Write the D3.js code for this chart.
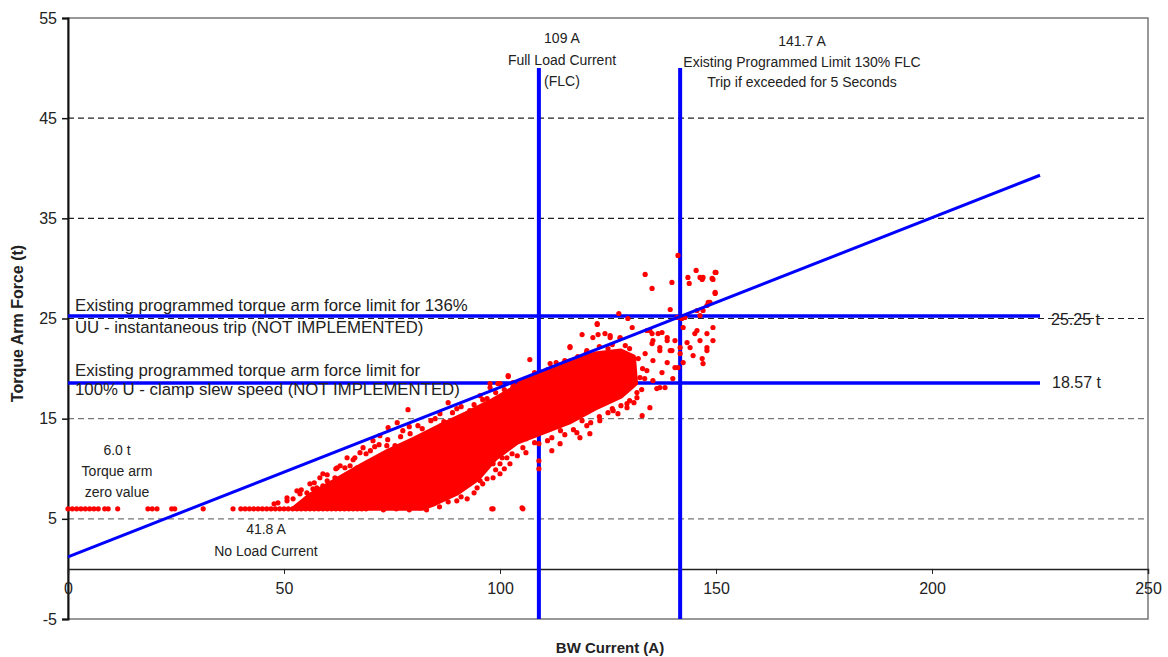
<!DOCTYPE html>
<html>
<head>
<meta charset="utf-8">
<script src="https://cdn.jsdelivr.net/npm/d3@7"></script>
<style>
  body { margin: 0; background: #fff; }
  text { font-family: "Liberation Sans", Arial, sans-serif; fill: #222; }
</style>
</head>
<body>
<svg id="canvas" width="1168" height="657"></svg>
<script>
// axis ticks
let xTicks = [0, 50, 100, 150, 200, 250]
let yTicks = [-5, 5, 15, 25, 35, 45, 55]
let gridValues = [5, 15, 25, 35, 45]

// limits (A and t)
let currentLimits = [109, 141.7]
let forceLimits = [25.25, 18.57]
let limitLineEnd = 225

// upper force limit line
let trendLine = [[0, 1.2], [225, 39.3]]

// torque arm zero value readings (6.0 t)
let zeroForce = 6.0
let zeroReadings = [0, 1, 2, 3, 4, 5, 6, 7, 8.5, 9.3, 11.5, 18.5, 19.5, 20.6, 24, 24.7, 31.3, 38.2,
  40, 41, 42, 43, 44, 45, 46, 47, 48, 49, 50, 51, 52, 53, 54, 55, 56, 57, 58, 59,
  60, 61, 62, 63, 64, 65, 66, 67, 68, 69]

// outline of the densest part of the cloud
let denseCloud = [
  [52, 6.0], [56, 7.4], [62, 8.9], [68, 10.4], [74, 11.8], [80, 13.0], [86, 14.3], [92, 15.5],
  [98, 16.8], [104, 18.3], [110, 19.7], [116, 20.8], [122, 21.5], [128, 21.8], [131, 21.2],
  [131.5, 18.5], [128, 17.2], [122, 16.0], [116, 14.6], [110, 13.6], [104, 12.6], [99, 11.0],
  [95, 9.0], [90, 7.5], [85, 6.5], [82, 6.0]
]

// individual readings outside the dense part
let readings = [
  [141.2, 31.3], [133.6, 29.4], [135.2, 28.0], [139.8, 28.6], [145.4, 29.8], [143.5, 29.1], [143.8, 28.5],
  [146.3, 29.1], [146.8, 28.9], [147.0, 29.1], [149.1, 29.0], [150.0, 29.6], [149.8, 27.5], [148.6, 26.6],
  [147.9, 26.3], [147.0, 25.8], [145.6, 25.8], [146.3, 25.3], [139.4, 25.9], [127.5, 25.5], [129.6, 25.0],
  [130.6, 24.1], [141.0, 25.1], [142.1, 25.0], [142.8, 25.1], [127.8, 23.1], [125.5, 23.3], [134.7, 23.8],
  [136.6, 23.5], [138.7, 23.1], [140.5, 22.8], [141.7, 22.1], [145.6, 23.8], [147.9, 23.5], [149.3, 24.1],
  [146.3, 22.8], [144.0, 22.1], [147.9, 21.8], [137.0, 22.1], [135.4, 22.8], [139.4, 21.8],
  [122.5, 24.4], [119.0, 23.4], [122.7, 23.4], [124.3, 23.5], [127.8, 23.0], [116.2, 22.2], [120.1, 21.8],
  [106.9, 20.9], [111.6, 20.5], [112.0, 20.1], [105.3, 18.8], [104.6, 18.6], [101.9, 19.2], [100.0, 18.5],
  [97.7, 18.1], [134.0, 23.8], [135.2, 23.5], [137.5, 23.6], [138.7, 22.8], [135.2, 22.5], [137.0, 21.8],
  [139.8, 21.8], [133.6, 21.5], [135.4, 20.8], [138.7, 20.6], [140.5, 20.1], [134.0, 19.8], [137.5, 19.6],
  [132.4, 19.1], [135.4, 18.8], [140.0, 19.0], [138.2, 18.1], [131.7, 17.6], [136.3, 18.0],
  [134.7, 16.1], [129.4, 16.1], [132.9, 15.3], [126.2, 15.8], [123.1, 14.8], [120.1, 14.3], [118.5, 13.1],
  [120.8, 13.5], [117.8, 13.6], [112.0, 13.1], [113.9, 12.5], [109.0, 12.5], [109.0, 10.8], [109.0, 10.0],
  [112.0, 11.8], [105.3, 12.1], [102.8, 11.5], [100.5, 11.1], [102.3, 10.5], [98.4, 10.5], [97.2, 10.8],
  [96.0, 10.1], [78.7, 15.9], [88.0, 16.6], [86.1, 15.5], [95.4, 17.3], [97.0, 17.0], [99.5, 18.5],
  [97.7, 18.5], [101.9, 19.3], [76.2, 14.6], [74.1, 14.1], [70.6, 12.8], [77.5, 13.8], [79.2, 13.5],
  [73.8, 12.3], [75.7, 12.3], [67.6, 11.6], [66.4, 11.1], [65.3, 10.3], [64.1, 10.1], [66.9, 10.1],
  [61.8, 9.1], [63.0, 9.0], [60.0, 8.8], [57.6, 8.1], [56.7, 8.0], [59.0, 8.3], [53.7, 7.5], [55.3, 7.6],
  [52.1, 7.0], [50.7, 6.8], [90.0, 6.8], [92.4, 7.0], [85.4, 6.8], [98.1, 6.0], [83.1, 6.3], [81.5, 6.1],
  [87.7, 7.5], [88.4, 8.1], [95.4, 8.8], [94.7, 8.1], [98.4, 9.1], [101.6, 11.1], [100.0, 10.5],
  [105.3, 6.0], [98.4, 6.0], [105.1, 6.1], [47.7, 6.5], [48.6, 6.6],
  [147.0, 20.5], [147.9, 22.1], [149.3, 22.8], [145.1, 23.5], [142.4, 24.1], [143.3, 22.6], [141.7, 21.5],
  [142.4, 20.6], [141.2, 20.1], [144.7, 21.3], [146.8, 21.0], [149.8, 29.6], [149.3, 28.9], [149.8, 27.6],
  [148.2, 26.6], [122.5, 24.5], [121.5, 23.1], [125.5, 23.1], [116.2, 22.1], [119.2, 21.1],
  [127.3, 15.5], [129.4, 16.5], [131.7, 17.1], [137.0, 18.1],
  [84, 14.8], [90, 16.0], [93, 15.8], [103, 18.2], [108, 19.6], [113, 20.6], [118, 21.2], [125, 22.0],
  [129, 22.3], [70, 11.8], [72, 12.4], [81, 14.3], [59, 9.5], [62, 10.0], [84, 8.0], [92, 10.5],
  [106, 13.0], [114, 13.8], [119, 14.8], [125, 15.6], [130, 16.8], [100, 9.5], [96, 8.5],
  [72.2, 13.3], [68.3, 12.1], [64.6, 11.1], [62.3, 10.1], [58.3, 9.1], [56.0, 8.5], [53.0, 7.8], [50.7, 7.1],
  [54, 7.9], [57, 8.6], [60, 9.4], [63, 10.3], [66, 10.9], [69, 11.5], [71, 12.2], [74, 12.9], [77, 13.2],
  [79, 14.2], [82, 14.0], [85, 15.0], [87, 14.7], [89, 15.6], [91, 16.2], [94, 16.4], [96, 16.9], [99, 17.6],
  [101, 17.9], [103, 18.6], [106, 18.9], [111, 19.9], [115, 20.8], [120, 21.6], [123, 22.2], [126, 22.4],
  [130, 22.0], [132, 21.0], [133, 20.0], [133.5, 19.0], [132.8, 17.9],
  [131, 16.6], [128, 16.3], [126, 16.0], [123, 15.2], [121, 14.6], [117, 13.9], [115, 13.4], [111, 12.8],
  [108, 12.6], [106, 11.6], [104, 11.3], [101, 10.0], [99, 9.9], [97, 9.0], [94, 7.6], [91, 7.2],
  [88, 6.7], [86, 6.2], [83, 5.9], [79, 5.9], [76, 6.0], [73, 5.9]
]

let canvas = d3.select('#canvas')
let plotLeft = 68, plotRight = 1148, plotTop = 18, plotBottom = 619
let fontFamily = '"Liberation Sans", Arial, sans-serif'

let xScale = d3.scaleLinear().domain([0, 250]).range([plotLeft, plotRight])
let yScale = d3.scaleLinear().domain([-5, 55]).range([plotBottom, plotTop])

let blue = '#0000ff'
let red = '#ff0000'

// frame
canvas.append('rect')
  .attr('x', plotLeft).attr('y', plotTop)
  .attr('width', plotRight - plotLeft).attr('height', plotBottom - plotTop)
  .attr('fill', 'none').attr('stroke', '#777').attr('stroke-width', 1.5)

// dashed grid
canvas.selectAll('.grid')
  .data(gridValues)
  .enter()
  .append('line')
  .attr('class', 'grid')
  .attr('x1', plotLeft).attr('x2', plotRight)
  .attr('y1', d => yScale(d)).attr('y2', d => yScale(d))
  .attr('stroke', d => d >= 25 ? '#222' : '#777')
  .attr('stroke-width', 1.2)
  .attr('stroke-dasharray', '6,4')

// y axis
let yAxis = d3.axisLeft(yScale).tickValues(yTicks).tickSize(6).tickPadding(5).tickFormat(d => String(d))
canvas.append('g')
  .attr('transform', `translate(${plotLeft},0)`)
  .call(yAxis)
  .call(g => g.select('.domain').attr('stroke', '#111').attr('stroke-width', 2))
  .call(g => g.selectAll('.tick line').attr('stroke', '#111').attr('stroke-width', 1.5))
  .call(g => g.selectAll('text').attr('font-size', 16).attr('fill', '#222').style('font-family', fontFamily))

// x axis on zero
let xAxis = d3.axisBottom(xScale).tickValues(xTicks).tickSize(5).tickPadding(9).tickFormat(d => String(d))
canvas.append('g')
  .attr('transform', `translate(0,${yScale(0)})`)
  .call(xAxis)
  .call(g => g.select('.domain').attr('stroke', '#222').attr('stroke-width', 1.5))
  .call(g => g.selectAll('.tick line').attr('stroke', '#222'))
  .call(g => g.selectAll('text').attr('font-size', 16).attr('fill', '#222').style('font-family', fontFamily))

// axis titles
canvas.append('text')
  .attr('transform', `translate(23,${(plotTop + plotBottom) / 2 + 5}) rotate(-90)`)
  .attr('text-anchor', 'middle')
  .attr('font-size', 16).attr('font-weight', 'bold')
  .text('Torque Arm Force (t)')

canvas.append('text')
  .attr('x', 610).attr('y', 653)
  .attr('text-anchor', 'middle')
  .attr('font-size', 15).attr('font-weight', 'bold')
  .text('BW Current (A)')

// limit lines
canvas.selectAll('.vlimit')
  .data(currentLimits)
  .enter()
  .append('line')
  .attr('class', 'vlimit')
  .attr('x1', d => xScale(d)).attr('x2', d => xScale(d))
  .attr('y1', yScale(50)).attr('y2', yScale(-5))
  .attr('stroke', blue).attr('stroke-width', 4)

canvas.selectAll('.hlimit')
  .data(forceLimits)
  .enter()
  .append('line')
  .attr('class', 'hlimit')
  .attr('x1', xScale(0)).attr('x2', xScale(limitLineEnd))
  .attr('y1', d => yScale(d)).attr('y2', d => yScale(d))
  .attr('stroke', blue).attr('stroke-width', 3.5)

// readings
canvas.append('path')
  .datum(denseCloud)
  .attr('d', d3.line().x(d => xScale(d[0])).y(d => yScale(d[1])).curve(d3.curveLinearClosed))
  .attr('fill', red).attr('stroke', red).attr('stroke-width', 4).attr('stroke-linejoin', 'round')

canvas.selectAll('.zero')
  .data(zeroReadings)
  .enter()
  .append('circle')
  .attr('class', 'zero')
  .attr('cx', d => xScale(d)).attr('cy', yScale(zeroForce))
  .attr('r', 2.6).attr('fill', red)

canvas.selectAll('.reading')
  .data(readings)
  .enter()
  .append('circle')
  .attr('class', 'reading')
  .attr('cx', d => xScale(d[0])).attr('cy', d => yScale(d[1]))
  .attr('r', 2.6).attr('fill', red)

// upper force line on top
canvas.append('path')
  .datum(trendLine)
  .attr('d', d3.line().x(d => xScale(d[0])).y(d => yScale(d[1])))
  .attr('stroke', blue).attr('stroke-width', 3).attr('fill', 'none')

// annotations
let note = (x, y, lines, size, anchor) => {
  lines.forEach((t, i) => {
    canvas.append('text')
      .attr('x', x).attr('y', y + i * size.gap)
      .attr('text-anchor', anchor)
      .attr('font-size', size.font)
      .text(t)
  })
}

note(562, 43, ['109 A', 'Full Load Current', '(FLC)'], {font: 14, gap: 21.5}, 'middle')
note(802, 46, ['141.7 A', 'Existing Programmed Limit 130% FLC', 'Trip if exceeded for 5 Seconds'], {font: 14, gap: 20.5}, 'middle')
note(75, 311, ['Existing programmed torque arm force limit for 136%', 'UU - instantaneous trip (NOT IMPLEMENTED)'], {font: 16.8, gap: 22}, 'start')
note(75, 376, ['Existing programmed torque arm force limit for', '100% U - clamp slew speed (NOT IMPLEMENTED)'], {font: 16.8, gap: 19}, 'start')
note(1051, 325, ['25.25 t'], {font: 16, gap: 0}, 'start')
note(1052, 388, ['18.57 t'], {font: 16, gap: 0}, 'start')
note(117, 455, ['6.0 t', 'Torque arm', 'zero value'], {font: 14, gap: 21}, 'middle')
note(266, 534, ['41.8 A', 'No Load Current'], {font: 14, gap: 22}, 'middle')
</script>
</body>
</html>
